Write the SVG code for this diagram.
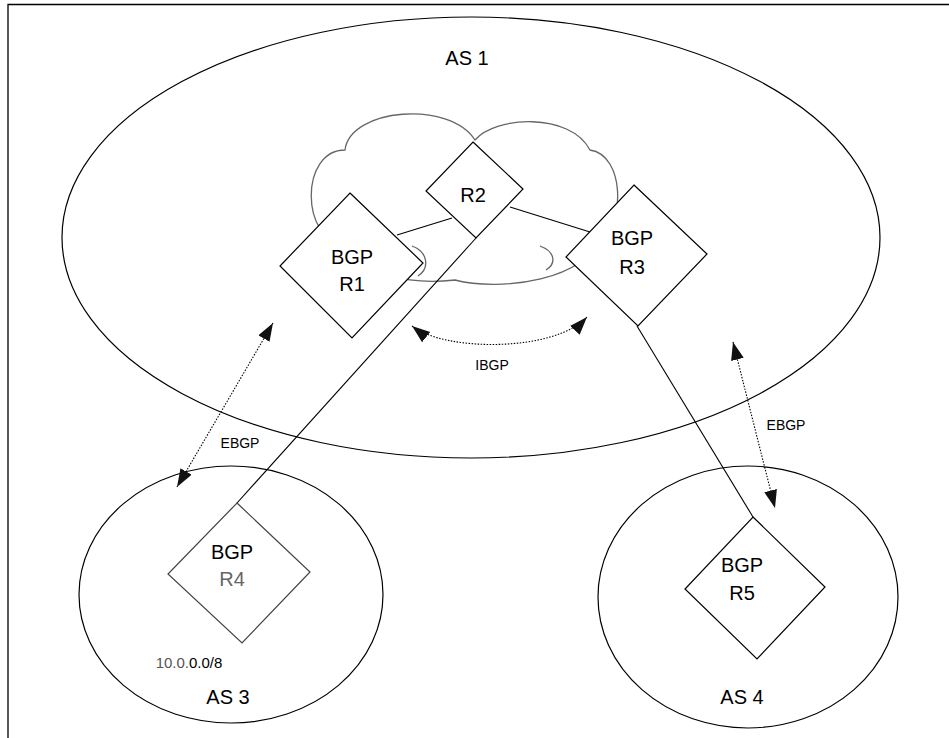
<svg xmlns="http://www.w3.org/2000/svg" width="949" height="738" viewBox="0 0 949 738">
<defs>
<style>
.frame{fill:none;stroke:#000;stroke-width:1.3}
.as{fill:none;stroke:#000;stroke-width:1.2}
.cloud{fill:none;stroke:#666;stroke-width:1.3}
.dia{fill:#fff;stroke:#000;stroke-width:1.2}
.link{fill:none;stroke:#000;stroke-width:1.1}
.dot{fill:none;stroke:#000;stroke-width:1.1;stroke-dasharray:1.5 1.5}
.t{font-family:"Liberation Sans",Arial,sans-serif;font-size:20px;fill:#000;text-anchor:middle}
.s{font-family:"Liberation Sans",Arial,sans-serif;font-size:14px;fill:#000;text-anchor:middle}
</style>
<marker id="ah" markerUnits="userSpaceOnUse" markerWidth="20" markerHeight="14" refX="18" refY="6.5" orient="auto-start-reverse" viewBox="0 0 20 14">
<path d="M0,0 L18,6.5 L0,13 z" fill="#111"/>
</marker>
</defs>
<rect width="949" height="738" fill="#fff"/>
<path class="frame" d="M8,738 L8,4.5 L949,4.5"/>

<g id="as1"><ellipse class="as" cx="471" cy="237.5" rx="409" ry="220.5"/><text class="t" x="467" y="65">AS 1</text></g>
<g id="as3"><ellipse class="as" cx="231" cy="594.5" rx="152" ry="128.5"/><text class="t" x="228" y="704">AS 3</text>
<text class="s" x="189" y="668" style="font-size:15px"><tspan fill="#555">10.0.</tspan>0.0/8</text></g>
<g id="as4"><ellipse class="as" cx="748" cy="597" rx="150" ry="131"/><text class="t" x="742" y="704">AS 4</text></g>

<g id="cloud">
<path class="cloud" d="M345,245 C300,240 300,150 345,150 C350,108 450,100 475,140 C495,116 570,112 590,150 C625,155 625,225 600,235 C590,280 500,292 455,280 C410,285 360,275 345,245 Z"/>
<path class="cloud" d="M412,246 C428,252 430,268 418,276"/>
<path class="cloud" d="M540,246 C556,252 556,264 546,270"/>
</g>

<g id="connectors">
<line class="link" x1="397" y1="235" x2="452" y2="218"/>
<line class="link" x1="510" y1="207" x2="590" y2="232"/>
<line class="link" x1="476" y1="238" x2="237" y2="503"/>
<line class="link" x1="637" y1="326" x2="753" y2="517"/>
<path class="dot" d="M412,326 C445,352 555,352 587,317" marker-start="url(#ah)" marker-end="url(#ah)"/>
<line class="dot" x1="273" y1="323" x2="177" y2="487" marker-start="url(#ah)" marker-end="url(#ah)"/>
<line class="dot" x1="733" y1="342" x2="775" y2="508" marker-start="url(#ah)" marker-end="url(#ah)"/>
<text class="s" x="492" y="370">IBGP</text>
<text class="s" x="240" y="448">EBGP</text>
<text class="s" x="786" y="430">EBGP</text>
</g>

<g id="r2"><path class="dia" d="M473,142 L523,189 L476,238 L426,191 Z"/><text class="t" x="473" y="202">R2</text></g>
<g id="r1"><path class="dia" d="M350,193 L423,263 L352,338 L280,266 Z"/><text class="t" x="352" y="264">BGP</text><text class="t" x="352" y="291">R1</text></g>
<g id="r3"><path class="dia" d="M634,185 L707,254 L638,326 L566,257 Z"/><text class="t" x="632" y="245">BGP</text><text class="t" x="632" y="274" fill="#333">R3</text></g>
<g id="r4"><path class="dia" d="M237,503 L310,572 L242,643 L168,574 Z" style="stroke:#444"/><text class="t" x="232" y="559">BGP</text><text class="t" x="232" y="586" style="fill:#666">R4</text></g>
<g id="r5"><path class="dia" d="M753,517 L825,587 L757,659 L685,589 Z"/><text class="t" x="742" y="572">BGP</text><text class="t" x="742" y="600">R5</text></g>
</svg>
